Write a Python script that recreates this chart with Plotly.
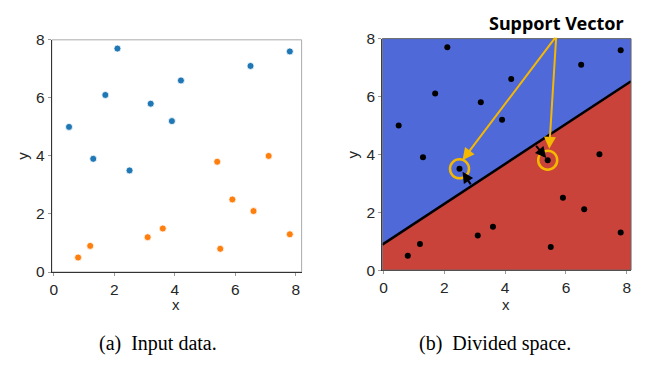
import plotly.graph_objects as go

# ---- data ----
blue_x = [0.5, 1.3, 1.7, 2.1, 2.5, 3.2, 3.9, 4.2, 6.5, 7.8]
blue_y = [5.0, 3.9, 6.1, 7.7, 3.5, 5.8, 5.2, 6.6, 7.1, 7.6]
orange_x = [0.8, 1.2, 3.1, 3.6, 5.4, 5.5, 5.9, 6.6, 7.1, 7.8]
orange_y = [0.5, 0.9, 1.2, 1.5, 3.8, 0.8, 2.5, 2.1, 4.0, 1.3]
boundary_slope = 0.69
boundary_intercept = 0.91
support_x = [2.5, 5.4]
support_y = [3.5, 3.8]
tick_vals = [0, 2, 4, 6, 8]
caption_a = "(a) Input data."
caption_b = "(b) Divided space."
annot_text = "Support Vector"

# page body margin compensation
OFF = 8
FW, FH = 649 - 2 * OFF, 367 - 2 * OFF
def px(x):
    return (x - OFF) / FW
def py(y):
    return 1 - (y - OFF) / FH

fig = go.Figure()

# left plot
fig.add_trace(go.Scatter(x=blue_x, y=blue_y, mode="markers", xaxis="x", yaxis="y",
                         marker=dict(color="#1f77b4", size=7, line=dict(color="white", width=0.8)),
                         showlegend=False))
fig.add_trace(go.Scatter(x=orange_x, y=orange_y, mode="markers", xaxis="x", yaxis="y",
                         marker=dict(color="#ff7f0e", size=7, line=dict(color="white", width=0.8)),
                         showlegend=False))

# right plot
rx0, rx1 = -0.04, 8.14
ry0, ry1 = 0, 8
def line_y(x):
    return boundary_slope * x + boundary_intercept
fig.add_trace(go.Scatter(x=[rx0, rx0, rx1, rx1, rx0], y=[ry0, line_y(rx0), line_y(rx1), ry0, ry0],
                         fill="toself", fillcolor="#c9433b", line=dict(width=0), mode="lines",
                         xaxis="x2", yaxis="y2", showlegend=False, hoverinfo="skip"))
fig.add_trace(go.Scatter(x=[rx0, rx0, rx1, rx1, rx0], y=[line_y(rx0), ry1, ry1, line_y(rx1), line_y(rx0)],
                         fill="toself", fillcolor="#5069d9", line=dict(width=0), mode="lines",
                         xaxis="x2", yaxis="y2", showlegend=False, hoverinfo="skip"))
fig.add_trace(go.Scatter(x=[rx0, rx1], y=[line_y(rx0), line_y(rx1)], mode="lines",
                         line=dict(color="black", width=2.5), xaxis="x2", yaxis="y2", showlegend=False))
fig.add_trace(go.Scatter(x=blue_x + orange_x, y=blue_y + orange_y, mode="markers",
                         marker=dict(color="black", size=6), xaxis="x2", yaxis="y2", showlegend=False))
fig.add_trace(go.Scatter(x=support_x, y=support_y, mode="markers",
                         marker=dict(color="rgba(0,0,0,0)", size=19, line=dict(color="#f5b800", width=2.5)),
                         xaxis="x2", yaxis="y2", showlegend=False))

axis_common = dict(tickvals=tick_vals, ticks="outside", ticklen=3, tickcolor="#999",
                   showgrid=False, zeroline=False, tickfont=dict(family="Liberation Sans", size=15.5, color="#262626"),
                   showline=True, linecolor="#333", linewidth=1, mirror=False)
fig.update_layout(
    width=FW, height=FH, margin=dict(l=0, r=0, t=0, b=0),
    paper_bgcolor="white", plot_bgcolor="white",
    xaxis=dict(domain=[px(49), px(300)], range=[-0.07, 8.19], anchor="y", **axis_common),
    yaxis=dict(domain=[py(276), py(32)], range=[0, 8], anchor="x", **axis_common),
    xaxis2=dict(domain=[px(381), px(631)], range=[rx0, rx1], anchor="y2", **axis_common),
    yaxis2=dict(domain=[py(274), py(30.7)], range=[ry0, ry1], anchor="x2", **axis_common),
)

# frame top/right
fig.add_shape(type="rect", xref="x domain", yref="y domain", x0=0, x1=1, y0=0, y1=1,
              line=dict(color="#aaa", width=1), layer="below")
fig.add_shape(type="rect", xref="x2 domain", yref="y2 domain", x0=0, x1=1, y0=0, y1=1,
              line=dict(color="#666", width=1))

# black arrows (margin vectors)
for (tx, ty), (hx, hy) in [((2.9, line_y(2.9)), (2.6, 3.4)), ((4.98, line_y(4.98)), (5.35, 3.87))]:
    fig.add_annotation(x=hx, y=hy, ax=tx, ay=ty, xref="x2", yref="y2", axref="x2", ayref="y2",
                       showarrow=True, arrowhead=2, arrowsize=1.1, arrowwidth=2, arrowcolor="black", text="")

# orange arrows from label
for (hx, hy) in [(2.6, 3.8), (5.45, 4.19)]:
    fig.add_annotation(x=hx, y=hy, ax=5.68, ay=8.08, xref="x2", yref="y2", axref="x2", ayref="y2",
                       showarrow=True, arrowhead=2, arrowsize=1.2, arrowwidth=2, arrowcolor="#f5b800", text="")

def label(xc, yc, text, size, family, color="#262626", angle=0):
    fig.add_annotation(x=px(xc), y=py(yc), xref="paper", yref="paper", text=text, showarrow=False,
                       xanchor="center", yanchor="middle", textangle=angle,
                       font=dict(family=family, size=size, color=color))

label(556, 14, "<b>" + annot_text + "</b>", 18, "Noto Sans", "black")

# axis titles
for xc in [174, 505]:
    label(xc, 310, "x", 15, "Liberation Sans")
for xc, yc in [(20, 154), (351, 152)]:
    label(xc, yc, "y", 15, "Liberation Sans", angle=-90)

# captions (wider gap after the sub-label, as in LaTeX subcaptions)
label(156, 351, caption_a.replace(" ", "\u00a0 ", 1), 20, "Liberation Serif", "black")
label(494, 351, caption_b.replace(" ", "\u00a0 ", 1), 20, "Liberation Serif", "black")

fig.write_html("out.html")
